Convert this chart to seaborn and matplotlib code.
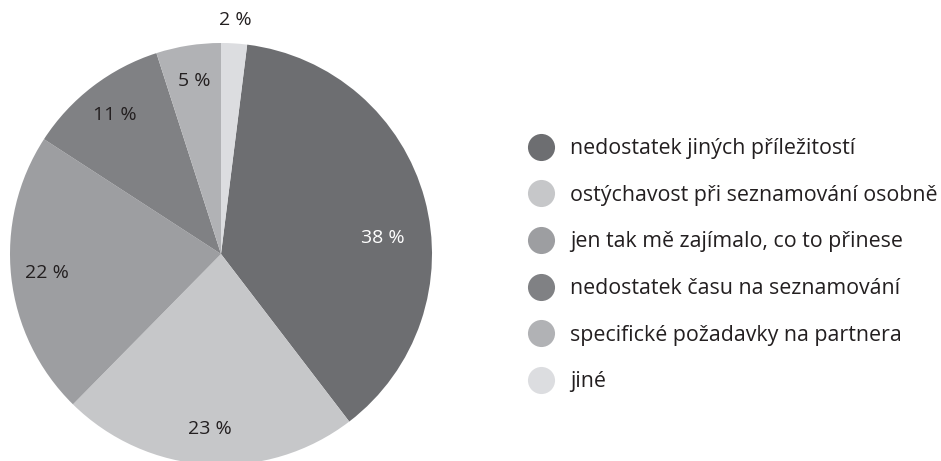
import numpy as np
import seaborn as sns
import matplotlib.pyplot as plt
from matplotlib.lines import Line2D

# data
categories = [
    "nedostatek jiných příležitostí",
    "ostýchavost při seznamování osobně",
    "jen tak mě zajímalo, co to přinese",
    "nedostatek času na seznamování",
    "specifické požadavky na partnera",
    "jiné",
]
shares = [38, 23, 22, 11, 5, 2]
pct_labels = ["38 %", "23 %", "22 %", "11 %", "5 %", "2 %"]
colors = ["#6d6e71", "#c6c7c9", "#9d9ea1", "#808184", "#b1b2b5", "#dcdde0"]

sns.set_theme(style="white")
plt.rcParams["font.family"] = ["Open Sans", "DejaVu Sans"]

fig = plt.figure(figsize=(9.41, 4.61), dpi=100)
W, H = 941, 461

# pie axes: centre (221, 254), radius 211 px
cx, cy, r = 221, 254, 211
ax = fig.add_axes([(cx - r) / W, (H - cy - r) / H, 2 * r / W, 2 * r / H])

# last slice ("jiné") sits right after 12 o'clock
start = 90 - 360 * shares[-1] / sum(shares)
wedges, texts, autotexts = ax.pie(
    shares, colors=colors, startangle=start, counterclock=False,
    autopct="%.0f", pctdistance=0.83,
    wedgeprops=dict(linewidth=0),
    textprops=dict(fontsize=14, color="#231f20"),
)
ax.set_xlim(-1, 1)
ax.set_ylim(-1, 1)
ax.set_aspect("equal")

for t, lab in zip(autotexts, pct_labels):
    t.set_text(lab)
autotexts[0].set_color("white")
# 38 % label sits a bit lower, 2 % label outside the pie
th = np.deg2rad(5.6)
autotexts[0].set_position((0.77 * np.cos(th), 0.77 * np.sin(th)))
w = wedges[-1]
th = np.deg2rad((w.theta1 + w.theta2) / 2)
autotexts[-1].set_position((1.11 * np.cos(th), 1.11 * np.sin(th)))

# legend
handles = [Line2D([0], [0], marker="o", linestyle="", markersize=19.5,
                  markerfacecolor=c, markeredgewidth=0) for c in colors]
fig.legend(handles, categories, loc="upper left",
           bbox_to_anchor=(527.5 / W, 1 - 138 / H),
           frameon=False, fontsize=15.4, labelcolor="#231f20",
           handlelength=1.27, handletextpad=0.73, labelspacing=1.2,
           borderpad=0, borderaxespad=0)

fig.savefig("out.png", dpi=100)
